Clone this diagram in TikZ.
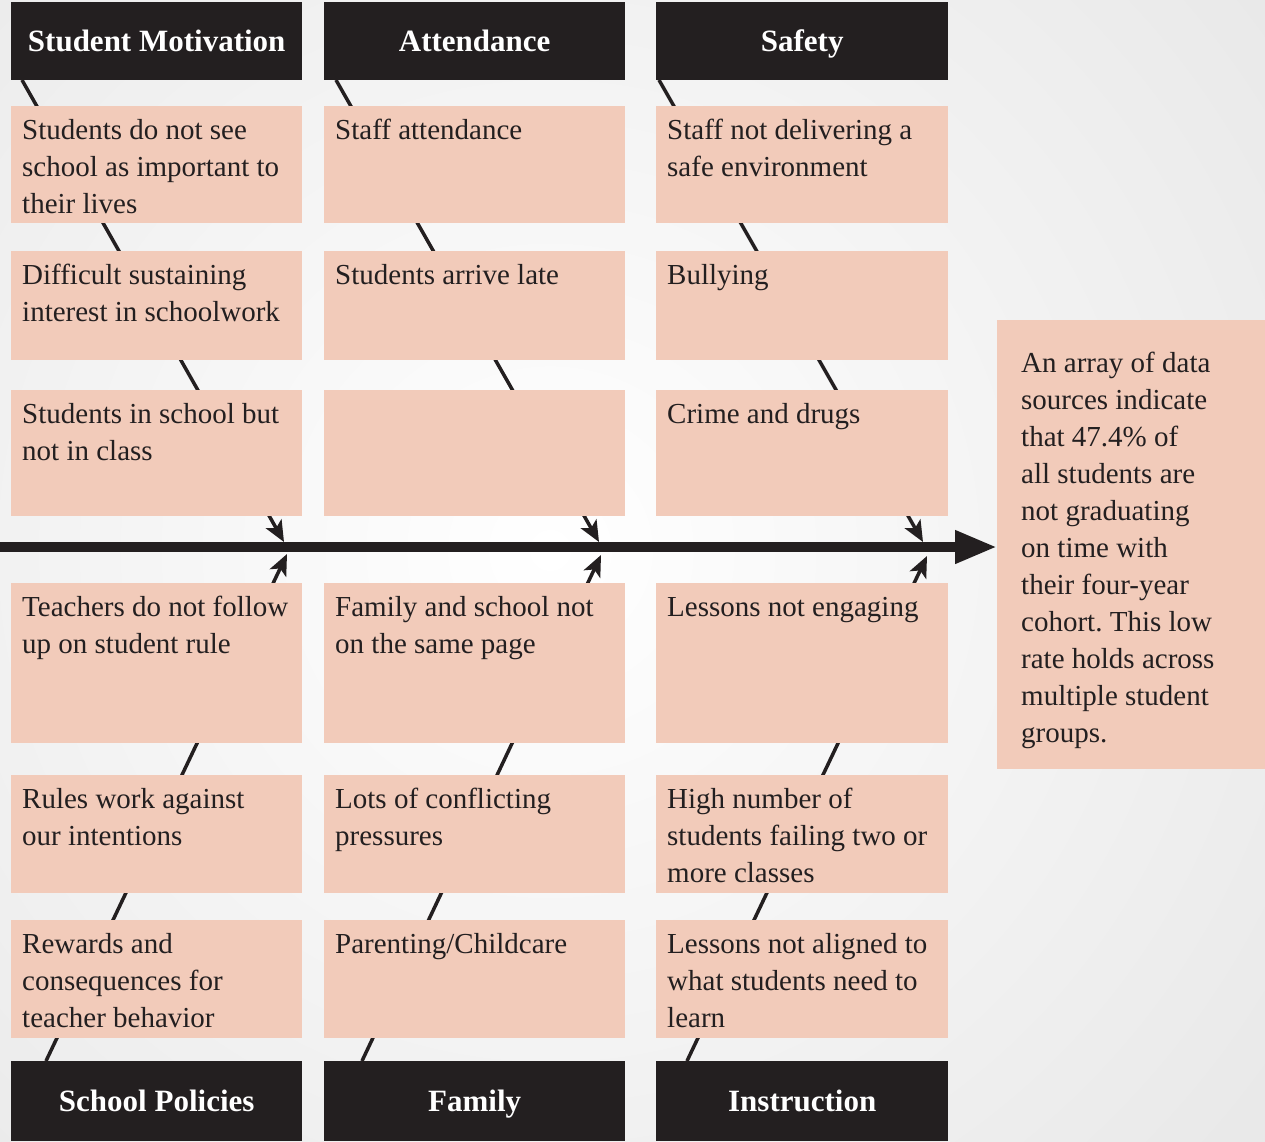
\documentclass[tikz,border=0pt]{standalone}
\usepackage{fontspec}
\setmainfont{Liberation Serif}
\usetikzlibrary{arrows.meta}
\definecolor{ink}{HTML}{231F20}
\definecolor{salmon}{HTML}{F2CBBA}
\definecolor{bgedge}{HTML}{E9E9E9}
\frenchspacing
\tikzset{
  causebox/.style={fill=salmon, inner sep=0pt, anchor=north west, text=ink,
    font=\fontsize{29}{37}\selectfont},
  effectbox/.style={fill=salmon, inner sep=0pt, anchor=north west, text=ink,
    font=\fontsize{29}{37}\selectfont},
  headbox/.style={fill=ink, inner sep=0pt, anchor=north west, text=white,
    font=\fontsize{31}{36}\selectfont\bfseries, text height=21pt, text depth=0pt},
  bone/.style={draw=ink, line width=3.5pt, -{Stealth[length=21pt,width=18pt,inset=5pt]}},
  spine/.style={draw=ink, line width=10pt, -{Triangle[length=42pt,width=31pt]}}
}
\newcommand\causenode[6]{%
  \node[causebox, minimum width=#4pt, minimum height=#5pt] (#1) at (#2,#3)
    {\parbox[c][#5pt][t]{\dimexpr#4pt-22pt\relax}{\raggedright\rule{0pt}{33pt}#6}};}
\newcommand\headnode[6]{%
  \node[headbox, minimum width=#4pt, minimum height=#5pt] (#1) at (#2,#3) {#6};}
\begin{document}
\begin{tikzpicture}[x=1pt,y=-1pt]
  % background
  \useasboundingbox (0,0) rectangle (1265,1141);
  \shade[inner color=white, outer color=bgedge] (-350,-350) rectangle (1450,1450);

  % named end points of the bones
  \coordinate (t1s) at (22,80);   \coordinate (t1e) at (284,542);
  \coordinate (t2s) at (336,80);  \coordinate (t2e) at (599,542);
  \coordinate (t3s) at (659,80);  \coordinate (t3e) at (923,542);
  \coordinate (b1s) at (46,1061); \coordinate (b1e) at (287,554);
  \coordinate (b2s) at (362,1061);\coordinate (b2e) at (601,555);
  \coordinate (b3s) at (687,1061);\coordinate (b3e) at (927,556);
  \coordinate (spinestart) at (0,547);

  % bones (drawn first, boxes cover them)
  \draw[bone] (t1s) -- (t1e);
  \draw[bone] (t2s) -- (t2e);
  \draw[bone] (t3s) -- (t3e);
  \draw[bone] (b1s) -- (b1e);
  \draw[bone] (b2s) -- (b2e);
  \draw[bone] (b3s) -- (b3e);

  % effect box
  \node[effectbox, minimum width=268pt, minimum height=449pt] (effect) at (997,320)
    {\parbox[c][449pt][t]{220pt}{\raggedright\rule{0pt}{52pt}An array of data\\sources indicate\\that 47.4\% of\\all students are\\not graduating\\on time with\\their four-year\\cohort. This low\\rate holds across\\multiple student\\groups.}};

  % spine
  \draw[spine] (spinestart) -- (effect.west |- spinestart);

  % top cause boxes
  \causenode{m1}{11}{106}{291}{117}{Students do not see\\school as important to\\their lives}
  \causenode{m2}{11}{251}{291}{109}{Difficult sustaining\\interest in schoolwork}
  \causenode{m3}{11}{390}{291}{126}{Students in school but\\not in class}
  \causenode{a1}{324}{106}{301}{117}{Staff attendance}
  \causenode{a2}{324}{251}{301}{109}{Students arrive late}
  \causenode{a3}{324}{390}{301}{126}{}
  \causenode{s1}{656}{106}{292}{117}{Staff not delivering a\\safe environment}
  \causenode{s2}{656}{251}{292}{109}{Bullying}
  \causenode{s3}{656}{390}{292}{126}{Crime and drugs}

  % bottom cause boxes
  \causenode{p1}{11}{583}{291}{160}{Teachers do not follow\\up on student rule}
  \causenode{p2}{11}{775}{291}{118}{Rules work against\\our intentions}
  \causenode{p3}{11}{920}{291}{118}{Rewards and\\consequences for\\teacher behavior}
  \causenode{f1}{324}{583}{301}{160}{Family and school not\\on the same page}
  \causenode{f2}{324}{775}{301}{118}{Lots of conflicting\\pressures}
  \causenode{f3}{324}{920}{301}{118}{Parenting/Childcare}
  \causenode{i1}{656}{583}{292}{160}{Lessons not engaging}
  \causenode{i2}{656}{775}{292}{118}{High number of\\students failing two or\\more classes}
  \causenode{i3}{656}{920}{292}{118}{Lessons not aligned to\\what students need to\\learn}

  % category headers
  \headnode{hm}{11}{2}{291}{78}{Student Motivation}
  \headnode{ha}{324}{2}{301}{78}{Attendance}
  \headnode{hs}{656}{2}{292}{78}{Safety}
  \headnode{hp}{11}{1061}{291}{80}{School Policies}
  \headnode{hf}{324}{1061}{301}{80}{Family}
  \headnode{hi}{656}{1061}{292}{80}{Instruction}
\end{tikzpicture}
\end{document}
